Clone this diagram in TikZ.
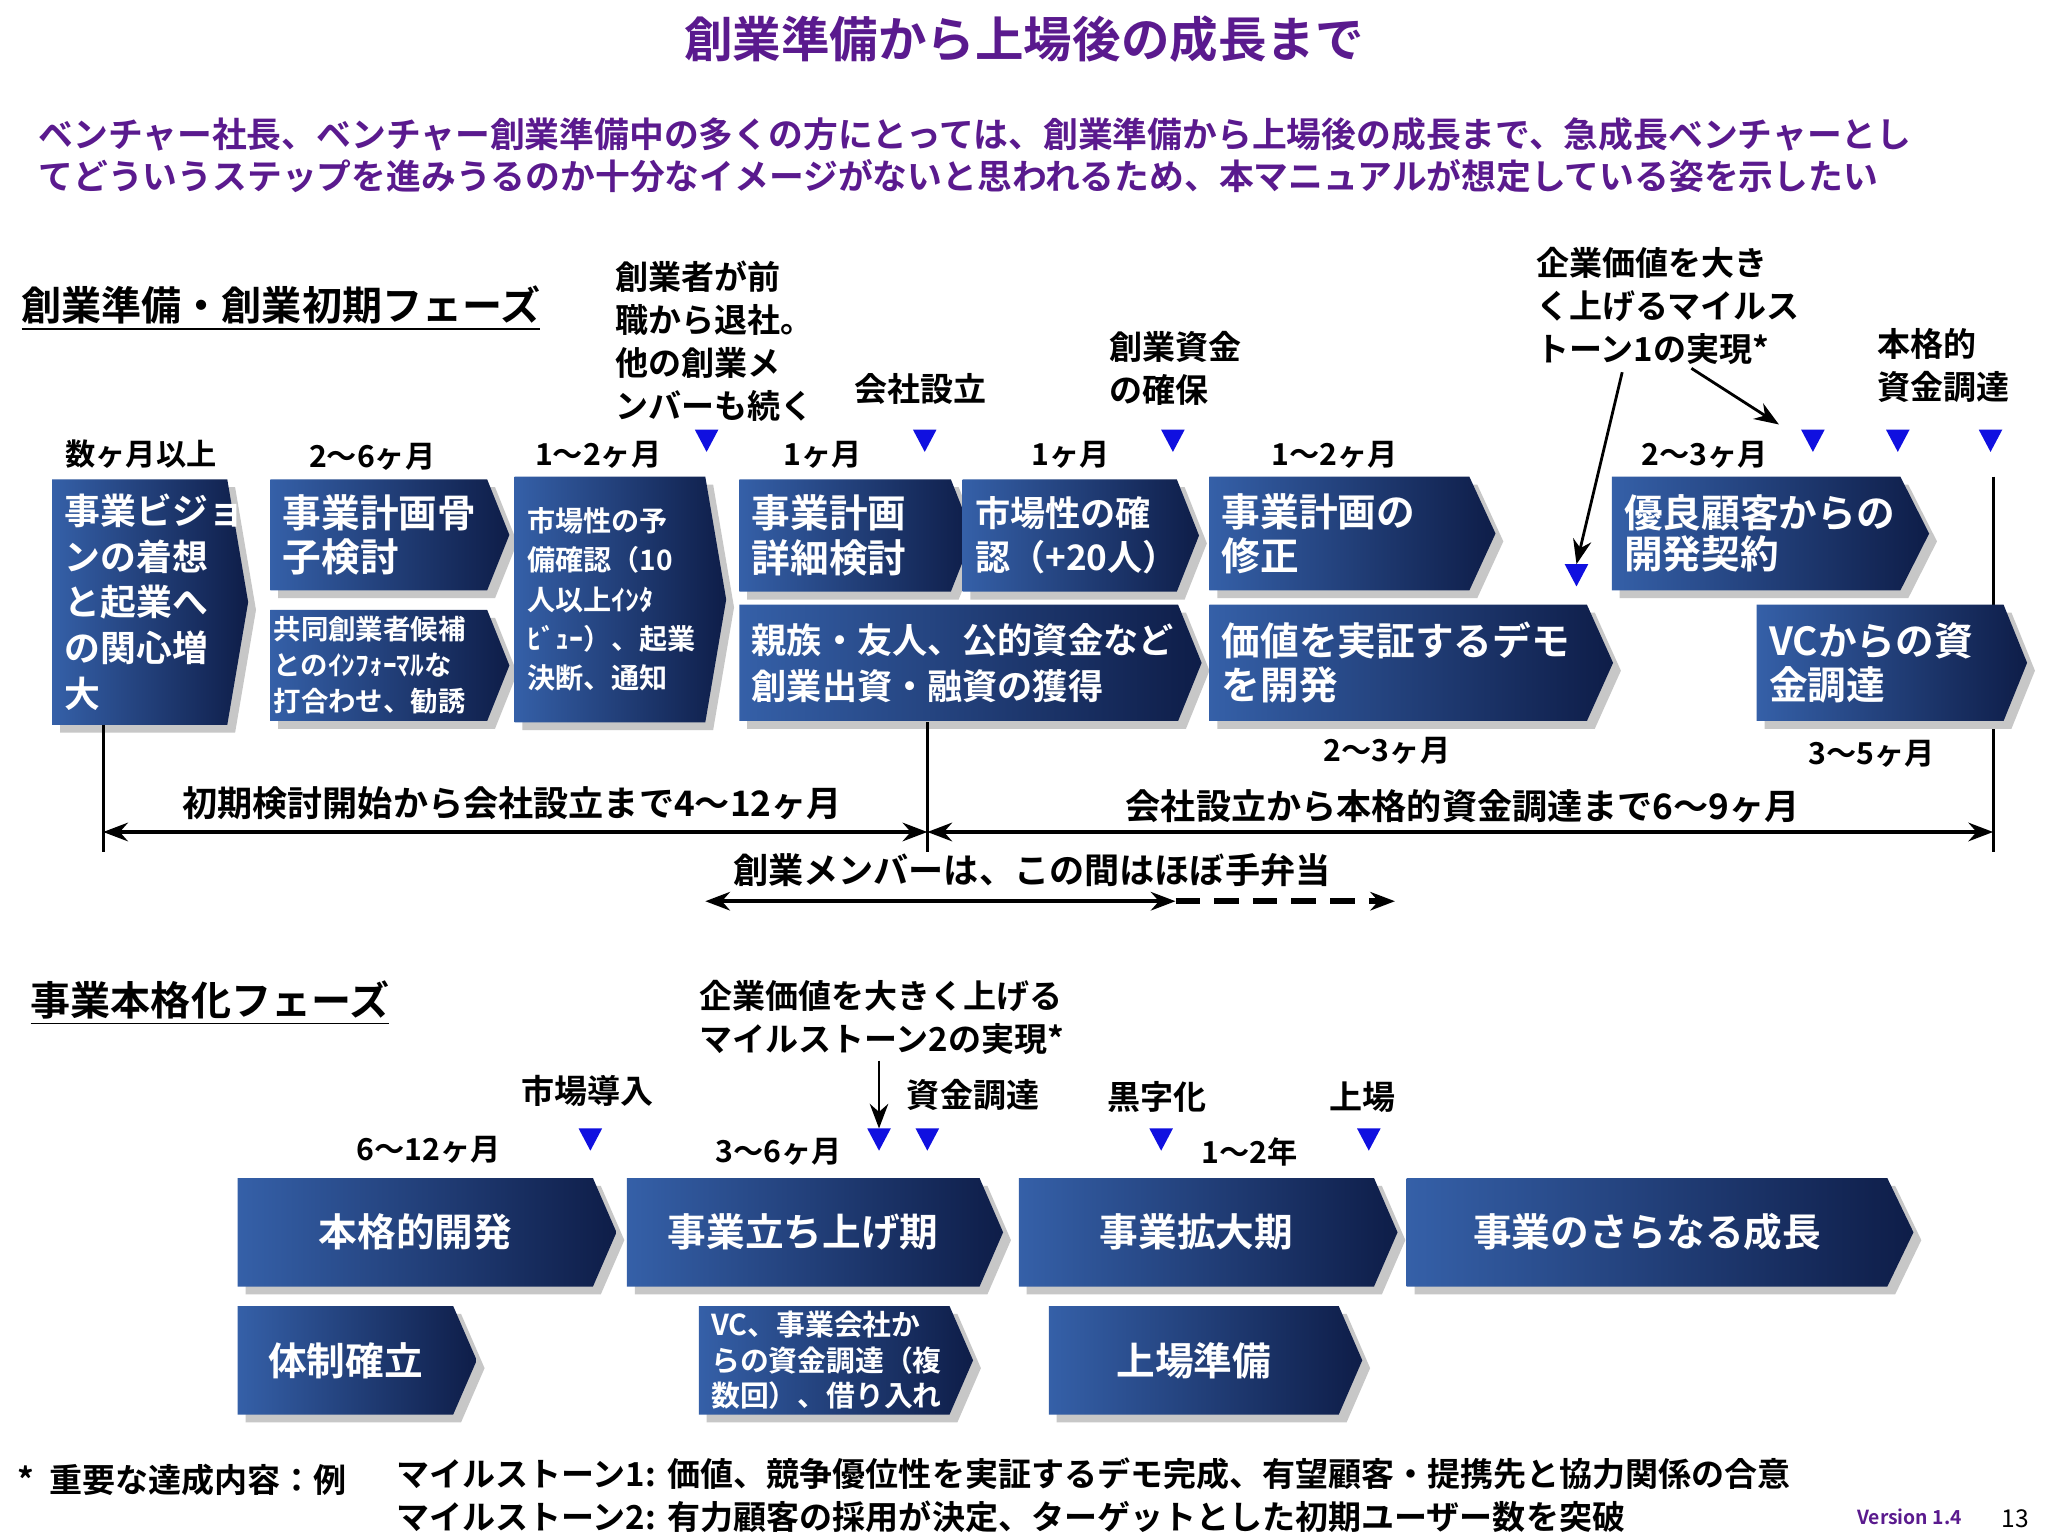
\documentclass[tikz,border=0pt]{standalone}
\usepackage{fontspec}
\setmainfont{Noto Sans CJK JP}[BoldFont={Noto Sans CJK JP Bold}]
\usetikzlibrary{arrows.meta}
\definecolor{boxL}{HTML}{3560A8}
\definecolor{boxR}{HTML}{0E1D48}
\definecolor{purp}{HTML}{5A1A8E}
\definecolor{tri}{HTML}{1010E0}
\newcommand\fz[2]{\fontsize{#1}{#2}\selectfont}
\newcommand\chevshape[5]{%
  \fill[black!22] (#1+6,#2+6) -- (#3-#5+6,#2+6) -- (#3+6,{(#2+#4)/2+6}) -- (#3-#5+6,#4+6) -- (#1+6,#4+6) -- cycle;
  \shade[left color=boxL, right color=boxR] (#1,#2) -- (#3-#5,#2) -- (#3,{(#2+#4)/2}) -- (#3-#5,#4) -- (#1,#4) -- cycle;}
% name, x1,y1,x2,y2, tip, font, text
\newcommand\chev[8]{\chevshape{#2}{#3}{#4}{#5}{#6}%
  \node[boxtext,font=#7] (#1) at (#2+9,{(#3+#5)/2}) {#8};}
\newcommand\chevc[8]{\chevshape{#2}{#3}{#4}{#5}{#6}%
  \node[boxtext,anchor=center,font=#7] (#1) at ({(#2+#4-#6)/2},{(#3+#5)/2}) {#8};}
\tikzset{
  boxtext/.style={anchor=west,align=left,text=white,inner sep=0pt},
  lbl/.style={font=\bfseries\fz{8.6}{10.5},inner sep=1pt},
  ann/.style={font=\bfseries\fz{9.4}{12.2},align=left,inner sep=1pt},
  dim/.style={{Stealth[length=7pt]}-{Stealth[length=7pt]},line width=1.2pt},
}
\newcommand\tri[3]{\fill[tri] (#2-9,#3-9) -- (#2+9,#3-9) -- (#2,#3+8) -- cycle; \coordinate (#1) at (#2,#3-9);}
\begin{document}
\begin{tikzpicture}[x=0.01306cm,y=-0.01306cm]
\useasboundingbox (0,0) rectangle (1568,1176);
\fill[white] (0,0) rectangle (1568,1176);
\node[font=\bfseries\fz{13.8}{16},text=purp] (title) at (784,30) {創業準備から上場後の成長まで};
\node[font=\bfseries\fz{9.9}{12},text=purp,anchor=west,align=left] (sub) at (20,119) {ベンチャー社長、ベンチャー創業準備中の多くの方にとっては、創業準備から上場後の成長まで、急成長ベンチャーとし\\てどういうステップを進みうるのか十分なイメージがないと思われるため、本マニュアルが想定している姿を示したい};
\node[font=\bfseries\fz{11.4}{13},anchor=west,inner sep=0pt] (sec1) at (16,236) {\underline{創業準備・創業初期フェーズ}};
\node[lbl] (l1) at (108,348) {数ヶ月以上};
\node[lbl] (l2) at (285,350) {2〜6ヶ月};
\node[lbl] (l3) at (458,348) {1〜2ヶ月};
\node[lbl] (l4) at (630,348) {1ヶ月};
\node[lbl] (l5) at (820,348) {1ヶ月};
\node[lbl] (l6) at (1022,348) {1〜2ヶ月};
\node[lbl] (l7) at (1305,348) {2〜3ヶ月};
\node[lbl] (l8) at (1062,575) {2〜3ヶ月};
\node[lbl] (l9) at (1433,577) {3〜5ヶ月};
\chev{b1}{40}{367}{190}{555}{16}{\bfseries\fz{10.2}{13}}{事業ビジョ\\ンの着想\\と起業へ\\の関心増\\大}
\chev{b2}{207}{367}{390}{452}{17}{\bfseries\fz{11}{12.6}}{事業計画骨\\子検討}
\node[boxtext] at (0,0) {};
\chevshape{207}{467}{390}{552}{17}
\node[boxtext,font=\bfseries\fz{7.8}{10.2},anchor=west] (b3) at (209,509) {共同創業者候補\\とのｲﾝﾌｫｰﾏﾙな\\打合わせ、勧誘};
\chev{b4}{394}{365}{556}{553}{16}{\bfseries\fz{8}{11.2}}{市場性の予\\備確認（10\\人以上ｲﾝﾀ\\ﾋﾞｭｰ）、起業\\決断、通知}
\chev{b5}{566}{367}{745}{453}{17}{\bfseries\fz{11}{12.6}}{事業計画\\詳細検討}
\chev{b6}{737}{367}{918}{453}{17}{\bfseries\fz{10}{12.4}}{市場性の確\\認（+20人）}
\chev{b7}{926}{365}{1145}{452}{20}{\bfseries\fz{11}{12.6}}{事業計画の\\修正}
\chev{b8}{1234}{365}{1477}{452}{22}{\bfseries\fz{11}{11.6}}{優良顧客からの\\開発契約}
\chev{b9}{566}{463}{920}{552}{18}{\bfseries\fz{10}{13}}{親族・友人、公的資金など\\創業出資・融資の獲得}
\chev{b10}{926}{463}{1235}{552}{20}{\bfseries\fz{11}{12.6}}{価値を実証するデモ\\を開発}
\draw[line width=0.8pt] (1526,365) -- (1526,652);
\chev{b11}{1345}{463}{1552}{552}{18}{\bfseries\fz{11}{12.6}}{VCからの資\\金調達}
\tri{t1}{541}{338}\tri{t2}{708}{338}\tri{t3}{898}{338}\tri{t4}{1207}{441}
\tri{t5}{1388}{338}\tri{t6}{1453}{338}\tri{t7}{1524}{338}
\node[ann,anchor=west] (a1) at (468,261) {創業者が前\\職から退社。\\他の創業メ\\ンバーも続く};
\node[ann] (a2) at (705,298) {会社設立};
\node[ann] (a3) at (900,282) {創業資金\\の確保};
\node[ann,anchor=west] (a4) at (1173,234) {企業価値を大き\\く上げるマイルス\\トーン1の実現*};
\node[ann] (a5) at (1488,280) {本格的\\資金調達};
\draw[-{Stealth[length=7pt]},line width=0.8pt] (1242,285) -- (t4);
\draw[-{Stealth[length=7pt]},line width=0.8pt] (1295,282) -- (1362,325);
\draw[line width=0.8pt] (79,555) -- (79,652);
\draw[line width=0.8pt] (710,553) -- (710,652);
\coordinate (d0) at (79,637); \coordinate (d1) at (710,637); \coordinate (d2) at (1526,637);
\draw[dim] (d0) -- (d1);
\draw[dim] (d1) -- (d2);
\node[ann,font=\bfseries\fz{10}{12}] (dl1) at (392,615) {初期検討開始から会社設立まで4〜12ヶ月};
\node[ann,font=\bfseries\fz{10}{12}] (dl2) at (1120,617) {会社設立から本格的資金調達まで6〜9ヶ月};
\node[ann,font=\bfseries\fz{10}{12}] (dl3) at (790,666) {創業メンバーは、この間はほぼ手弁当};
\coordinate (e0) at (540,690); \coordinate (e1) at (900,690); \coordinate (e2) at (1068,690);
\draw[dim] (e0) -- (e1);
\draw[-{Stealth[length=7pt]},line width=1.6pt,dash pattern=on 7pt off 4pt] (e1) -- (e2);
\node[font=\bfseries\fz{11.4}{13},anchor=west,inner sep=0pt] (sec2) at (23,768) {\underline{事業本格化フェーズ}};
\node[ann,align=left] (m2) at (675,779) {企業価値を大きく上げる\\マイルストーン2の実現*};
\node[ann] (s1) at (450,835) {市場導入};
\node[ann] (s2) at (745,838) {資金調達};
\node[ann] (s3) at (886,840) {黒字化};
\node[ann] (s4) at (1043,840) {上場};
\node[lbl] (s5) at (328,880) {6〜12ヶ月};
\node[lbl] (s6) at (596,882) {3〜6ヶ月};
\node[lbl] (s7) at (957,882) {1〜2年};
\tri{u1}{452}{873}\tri{u2}{673}{873}\tri{u3}{710}{873}\tri{u4}{889}{873}\tri{u5}{1048}{873}
\draw[-{Stealth[length=7pt]},line width=0.8pt] (673,812) -- (u2);
\chevc{c1}{182}{902}{472}{985}{18}{\bfseries\fz{11}{13}}{本格的開発}
\chevc{c2}{480}{902}{768}{985}{18}{\bfseries\fz{11}{13}}{事業立ち上げ期}
\chevc{c3}{780}{902}{1070}{985}{18}{\bfseries\fz{11}{13}}{事業拡大期}
\chevc{c4}{1077}{902}{1465}{985}{20}{\bfseries\fz{11}{13}}{事業のさらなる成長}
\chevc{c5}{182}{1000}{365}{1083}{18}{\bfseries\fz{11}{13}}{体制確立}
\chev{c6}{535}{1000}{745}{1083}{18}{\bfseries\fz{8.2}{10.2}}{VC、事業会社か\\らの資金調達（複\\数回）、借り入れ}
\chevc{c7}{803}{1000}{1043}{1083}{18}{\bfseries\fz{11}{13}}{上場準備}
\node[ann,anchor=west] (f0) at (10,1133) {*\ \ 重要な達成内容：例};
\node[ann,anchor=west,align=left] (f1) at (300,1145) {マイルストーン1:\\マイルストーン2:};
\node[ann,anchor=west,align=left] (f2) at (508,1145) {価値、競争優位性を実証するデモ完成、有望顧客・提携先と協力関係の合意\\有力顧客の採用が決定、ターゲットとした初期ユーザー数を突破};
\node[font=\bfseries\fz{5.5}{6},text=purp] (ver) at (1462,1161) {Version 1.4};
\node[font=\fz{7}{8}] (pg) at (1543,1163) {13};
\end{tikzpicture}
\end{document}
